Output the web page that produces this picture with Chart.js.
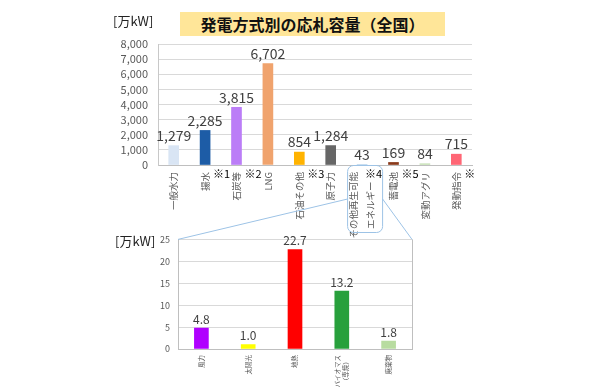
<!DOCTYPE html>
<html>
<head>
<meta charset="utf-8">
<script src="https://cdn.jsdelivr.net/npm/chart.js"></script>
<style>
  body{margin:0;background:#fff;font-family:"Noto Sans CJK JP",sans-serif;}
  #wrap{position:relative;width:590px;height:392px;overflow:hidden;}
  #wrap canvas{position:absolute;left:0;}
  #title{position:absolute;left:180px;top:12px;width:265px;height:24px;background:#ffe699;
    font-weight:bold;font-size:16px;line-height:24px;text-align:center;color:#111;}
  .unit{position:absolute;font-size:13px;color:#222;}
</style>
</head>
<body>
<div id="wrap">
  <canvas id="topcanvas" width="590" height="240" style="top:0"></canvas>
  <canvas id="subcanvas" width="590" height="166" style="top:226px"></canvas>
  <canvas id="linecanvas" width="590" height="392" style="top:0"></canvas>
  <div id="title">発電方式別の応札容量（全国）</div>
  <div class="unit" style="left:113px;top:11px">[万kW]</div>
  <div class="unit" style="left:115px;top:231px">[万kW]</div>
</div>
<script>
// data
var categories = ['一般水力', '揚水', '石炭等', 'LNG', '石油その他', '原子力',
  ['その他再生可能', 'エネルギー'], '蓄電池', '変動アグリ', '発動指令'];
var notes = ['', '※1', '※2', '', '※3', '', '※4', '※5', '', '※'];
var capacity = [1279, 2285, 3815, 6702, 854, 1284, 43, 169, 84, 715];

var subCategories = ['風力', '太陽光', '地熱', ['バイオマス', '（専焼）'], '廃棄物'];
var subCapacity = [4.8, 1.0, 22.7, 13.2, 1.8];

var topColors = ['#d9e5f4', '#1d5ca6', '#bb7df7', '#f0a36d', '#ffb300', '#666666',
  '#bdd7ee', '#8a3a1b', '#c5e0b4', '#ff6675'];
var subColors = ['#b000ff', '#ffff00', '#ff0000', '#28a03c', '#b8dca0'];

var fontFamily = '"Noto Sans CJK JP", sans-serif';
Chart.defaults.font.family = fontFamily;
var OTHER = 6;       // index of その他再生可能エネルギー
var SUB_TOP = 226;   // top of the lower canvas

// numbers above bars
var valueLabels = {
  id: 'valueLabels',
  afterDatasetsDraw: function(chart, args, opts){
    var ctx = chart.ctx;
    var meta = chart.getDatasetMeta(0);
    ctx.save();
    ctx.font = opts.size + 'px ' + fontFamily;
    ctx.fillStyle = '#404040';
    ctx.textAlign = 'center';
    ctx.textBaseline = 'bottom';
    meta.data.forEach(function(bar, i){
      var v = chart.data.datasets[0].data[i];
      var txt = opts.decimals ? v.toFixed(opts.decimals) : v.toLocaleString('en-US');
      ctx.fillText(txt, bar.x, bar.y - 3);
    });
    ctx.restore();
  }
};

// vertical category labels, read bottom to top, hung from the axis
var axisLabels = {
  id: 'axisLabels',
  afterDraw: function(chart, args, opts){
    var ctx = chart.ctx, sx = chart.scales.x, y0 = chart.chartArea.bottom + opts.gap;
    ctx.save();
    ctx.font = opts.size + 'px ' + fontFamily;
    ctx.fillStyle = '#595959';
    ctx.textBaseline = 'middle';
    chart.data.labels.forEach(function(lab, i){
      var lines = Array.isArray(lab) ? lab : [lab];
      var px = sx.getPixelForTick(i);
      var firstLen = ctx.measureText(lines[0]).width;
      lines.forEach(function(t, j){
        var cx = px + (j - (lines.length - 1) / 2) * opts.spacing;
        ctx.save();
        ctx.translate(cx, y0);
        ctx.rotate(-Math.PI / 2);
        if(j === 0){
          ctx.textAlign = 'right';
          ctx.fillText(t, 0, 0);
        } else {
          ctx.textAlign = 'center';
          ctx.fillText(t, -firstLen / 2, 0);
        }
        ctx.restore();
      });
    });
    ctx.restore();
  }
};

function roundBox(ctx, x, y, w, h, r){
  ctx.beginPath();
  ctx.moveTo(x + r, y);
  ctx.arcTo(x + w, y, x + w, y + h, r);
  ctx.arcTo(x + w, y + h, x, y + h, r);
  ctx.arcTo(x, y + h, x, y, r);
  ctx.arcTo(x, y, x + w, y, r);
  ctx.closePath();
}

// ※ marks and the rounded box round the renewable label
var noteMarks = {
  id: 'noteMarks',
  afterDraw: function(chart){
    var ctx = chart.ctx, sx = chart.scales.x, base = chart.chartArea.bottom;
    ctx.save();
    ctx.font = '11px ' + fontFamily;
    ctx.fillStyle = '#000';
    ctx.textAlign = 'left';
    ctx.textBaseline = 'middle';
    notes.forEach(function(n, i){
      if(!n) return;
      var off = Array.isArray(categories[i]) ? 3 : 8;
      ctx.fillText(n, sx.getPixelForTick(i) + off, base + 9);
    });
    var bx = sx.getPixelForTick(OTHER);
    ctx.strokeStyle = '#9dc3e6';
    ctx.lineWidth = 1;
    roundBox(ctx, bx - 14.5, base + 0.5, 35, 67, 6);
    ctx.stroke();
    ctx.restore();
  }
};

// right edge of the lower plot frame
var frameRight = {
  id: 'frameRight',
  afterDraw: function(chart){
    var a = chart.chartArea, ctx = chart.ctx;
    ctx.save();
    ctx.strokeStyle = '#bfbfbf';
    ctx.lineWidth = 1;
    ctx.beginPath();
    ctx.moveTo(Math.round(a.right) + 0.5, a.top);
    ctx.lineTo(Math.round(a.right) + 0.5, a.bottom);
    ctx.stroke();
    ctx.restore();
  }
};

function topChart(){
  var ctx = document.getElementById('topcanvas').getContext('2d');
  return new Chart(ctx, {
    type: 'bar',
    data: {
      labels: categories,
      datasets: [{ data: capacity, backgroundColor: topColors, barThickness: 10 }]
    },
    plugins: [valueLabels, axisLabels, noteMarks],
    options: {
      responsive: false,
      animation: false,
      events: [],
      layout: { padding: { left: 110, right: 118, top: 44, bottom: 0 } },
      plugins: {
        legend: { display: false },
        tooltip: { enabled: false },
        valueLabels: { size: 14 },
        axisLabels: { size: 9.5, gap: 7, spacing: 17 }
      },
      scales: {
        x: {
          grid: { display: false },
          border: { color: '#bfbfbf' },
          ticks: { display: false },
          afterFit: function(s){ s.height = 75; }
        },
        y: {
          min: 0, max: 8000,
          grid: { color: '#d9d9d9', drawTicks: false },
          border: { color: '#c8c8c8' },
          ticks: { stepSize: 1000, autoSkip: false, padding: 10, color: '#595959', font: { size: 11 } },
          afterFit: function(s){ s.width = 48; }
        }
      }
    }
  });
}

function subChart(){
  var ctx = document.getElementById('subcanvas').getContext('2d');
  return new Chart(ctx, {
    type: 'bar',
    data: {
      labels: subCategories,
      datasets: [{ data: subCapacity, backgroundColor: subColors, barThickness: 14 }]
    },
    plugins: [valueLabels, axisLabels, frameRight],
    options: {
      responsive: false,
      animation: false,
      events: [],
      layout: { padding: { left: 148, right: 178, top: 13, bottom: 0 } },
      plugins: {
        legend: { display: false },
        tooltip: { enabled: false },
        valueLabels: { size: 12, decimals: 1 },
        axisLabels: { size: 6.5, gap: 6, spacing: 8 }
      },
      scales: {
        x: {
          grid: { display: false },
          border: { color: '#bfbfbf' },
          ticks: { display: false },
          afterFit: function(s){ s.height = 43; }
        },
        y: {
          min: 0, max: 25,
          grid: { color: '#d9d9d9', drawTicks: false },
          border: { color: '#bfbfbf' },
          ticks: { stepSize: 5, autoSkip: false, padding: 8, color: '#595959', font: { size: 9 } },
          afterFit: function(s){ s.width = 30; }
        }
      }
    }
  });
}

var top1 = topChart();
var sub1 = subChart();

// callout lines from the renewable box to the lower chart
(function(){
  var ctx = document.getElementById('linecanvas').getContext('2d');
  var bx = top1.scales.x.getPixelForTick(OTHER);
  var midY = top1.chartArea.bottom + 0.5 + 67 / 2;
  var a = sub1.chartArea;
  ctx.strokeStyle = '#9dc3e6';
  ctx.lineWidth = 1;
  ctx.beginPath();
  ctx.moveTo(a.left, a.top + SUB_TOP);
  ctx.lineTo(bx - 14.5, midY);
  ctx.moveTo(bx + 20.5, midY);
  ctx.lineTo(a.right, a.top + SUB_TOP);
  ctx.stroke();
})();
</script>
</body>
</html>
